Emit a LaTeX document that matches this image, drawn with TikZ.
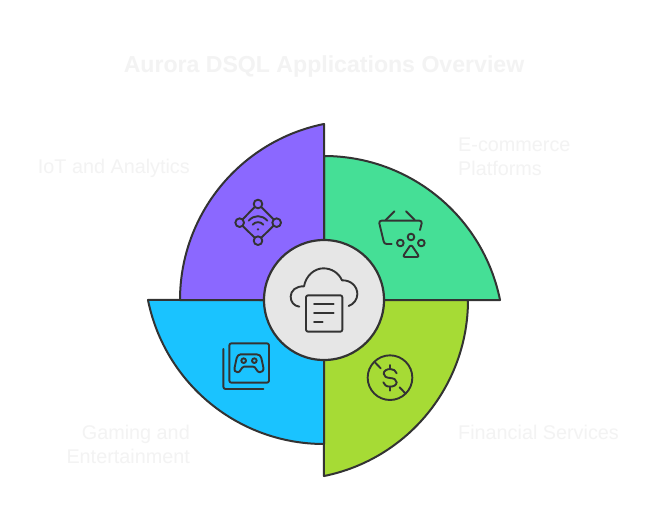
\documentclass[tikz,border=0pt]{standalone}
\usepackage{fontspec}
\setmainfont{Liberation Sans}
\definecolor{ink}{HTML}{333333}
\definecolor{faint}{HTML}{F3F3F3}
\definecolor{cpurple}{HTML}{8B68FF}
\definecolor{cgreen}{HTML}{45DF96}
\definecolor{clime}{HTML}{A6DB35}
\definecolor{cblue}{HTML}{1AC3FF}
\definecolor{ccenter}{HTML}{E6E6E6}
\tikzset{
  sector/.style={draw=ink,line width=2pt,line join=round},
  icon/.style={draw=ink,line width=1.9pt,line cap=round,line join=round},
  lab/.style={text=faint,font=\fontsize{19.8}{24}\selectfont,inner sep=0pt},
  ttl/.style={text=faint,font=\fontsize{23.1}{28}\selectfont\bfseries,inner sep=0pt},
}
\begin{document}
\begin{tikzpicture}[x=1pt,y=1pt,yscale=-1]
\useasboundingbox (0,0) rectangle (648,525);
\fill[white] (0,0) rectangle (648,525);
% sectors
\draw[sector,fill=cgreen] (324,300) -- (324,156) arc[start angle=-90,end angle=-11.43,radius=179.6pt] -- cycle;
\draw[sector,fill=clime] (324,300) -- (468,300) arc[start angle=0,end angle=78.57,radius=179.6pt] -- cycle;
\draw[sector,fill=cblue] (324,300) -- (324,444) arc[start angle=90,end angle=168.57,radius=179.6pt] -- cycle;
\draw[sector,fill=cpurple] (324,300) -- (180,300) arc[start angle=180,end angle=258.57,radius=179.6pt] -- cycle;
\node[circle,draw=ink,line width=2.2pt,fill=ccenter,minimum size=120pt,inner sep=0pt] (hub) at (324,300) {};
% icons, in the coordinates of a 3x crop
\begin{scope}[shift={(210,180)},scale=1/3]
 % wifi
 \draw[icon] (144,72) circle (13) (200,128) circle (13) (144,182) circle (13) (89,128) circle (13);
 \draw[icon] (134,81)--(98,118) (154,81)--(191,118) (98,138)--(134,173) (191,137)--(154,173);
 \draw[icon] (116,122) .. controls (132,104) and (156,104) .. (172,122);
 \draw[icon] (128,134) .. controls (136,124) and (152,124) .. (160,134);
 \fill[ink] (144,148) circle (4);
 % basket
 \draw[icon] (527,120)--(553,94) (614,120)--(588,94);
 \draw[icon] (545,192)--(530,192) .. controls (524,192) and (522,188) .. (521,184) -- (508,130) .. controls (507,125) and (510,122) .. (515,122) -- (628,122) .. controls (633,122) and (636,125) .. (635,130) -- (630,150);
 \draw[icon] (571,189) circle (10) (603,171) circle (10) (634,189) circle (10);
 \draw[icon] (599,199) .. controls (601,196) and (605,196) .. (607,199) -- (624,224) .. controls (627,228) and (625,231) .. (621,231) -- (585,231) .. controls (581,231) and (579,228) .. (582,224) -- cycle;
 % cloud and document
 \draw[icon] (268,380) .. controls (252,378) and (242,366) .. (242,350) .. controls (242,332) and (258,318) .. (282,319) .. controls (288,286) and (314,265) .. (340,265) .. controls (364,265) and (386,278) .. (396,301) .. controls (424,300) and (442,320) .. (442,342) .. controls (442,358) and (432,372) .. (416,378);
 \draw[icon,rounded corners=2pt] (288,346) rectangle (397,455);
 \draw[icon] (312,372)--(371,372) (312,400)--(371,400) (312,427)--(338,427);
 % game
 \draw[icon,rounded corners=2pt] (58,490) rectangle (177,608);
 \draw[icon] (40,507) -- (40,620) .. controls (40,625) and (43,627) .. (47,627) -- (160,627);
 \draw[icon] (92,523) -- (140,523) .. controls (148,523) and (152,528) .. (154,534) -- (160,562) .. controls (162,572) and (156,577) .. (149,577) .. controls (140,577) and (138,560) .. (130,560) -- (102,560) .. controls (94,560) and (92,577) .. (83,577) .. controls (76,577) and (72,572) .. (74,562) -- (80,534) .. controls (82,528) and (86,523) .. (92,523) -- cycle;
 \draw[icon] (101,542) circle (7) (133,542) circle (7);
 % dollar
 \draw[icon] (540,593) circle (67);
 \draw[icon] (495,547)--(512,565) (569,622)--(586,640);
 \draw[icon] (540,555)--(540,567) (540,620)--(540,632);
 \draw[icon] (560,580) .. controls (558,572) and (550,567) .. (541,567) .. controls (530,567) and (521,573) .. (521,581) .. controls (521,590) and (530,593) .. (540,594) .. controls (551,595) and (560,598) .. (560,607) .. controls (560,615) and (551,620) .. (540,620) .. controls (530,620) and (522,615) .. (520,607);
\end{scope}
% text
\node[ttl,anchor=center] (title) at (324,67) {Aurora DSQL Applications Overview};
\node[lab,anchor=east,align=right] (iot) at (190,168.5) {IoT and Analytics};
\node[lab,anchor=west,align=left] (ecom) at (458,156.5) {E-commerce\\Platforms};
\node[lab,anchor=east,align=right] (game) at (190,444) {Gaming and\\Entertainment};
\node[lab,anchor=west,align=left] (fin) at (458,432) {Financial Services};
\end{tikzpicture}
\end{document}
